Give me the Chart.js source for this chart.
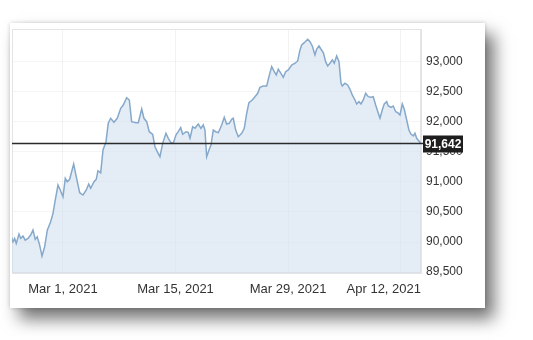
<!DOCTYPE html>
<html>
<head>
<meta charset="utf-8">
<script src="https://cdn.jsdelivr.net/npm/chart.js@4.4.1/dist/chart.umd.min.js"></script>
<style>
  html, body { margin: 0; padding: 0; background: #fff; width: 533px; height: 340px; overflow: hidden; }
  #card {
    position: absolute; left: 10px; top: 23px; width: 475px; height: 285px;
    background: #fff;
    box-shadow: 0 0 4px rgba(0,0,0,0.18), 9px 11px 16px rgba(0,0,0,0.55);
  }
  canvas { display: block; }
</style>
</head>
<body>
<div id="card"><canvas id="c" width="475" height="285"></canvas></div>
<script>
// Day offsets from Mar 1, 2021 (fractional days) and index values
const days = [
  -6.40, -6.22, -6.01, -5.81, -5.47, -5.26, -4.98, -4.69, -4.35, -4.02,
  -3.73, -3.45, -3.20, -2.90, -2.61, -2.28, -1.95, -1.53, -1.24, -0.96,
  -0.62, -0.34, 0.00, 0.29, 0.53, 0.83, 1.33, 1.65, 2.08, 2.49,
  2.90, 3.20, 3.45, 3.86, 4.14, 4.35, 4.69, 4.98, 5.35, 5.63,
  5.93, 6.34, 6.75, 7.18, 7.50, 7.92, 8.25, 8.54, 9.08, 9.37,
  9.79, 10.07, 10.41, 10.73, 11.16, 11.44, 11.73, 12.06, 12.40, 12.81,
  13.10, 13.40, 13.72, 14.05, 14.34, 14.64, 14.89, 15.30, 15.58, 15.80,
  16.13, 16.42, 16.83, 17.16, 17.45, 17.66, 17.87, 18.16, 18.41, 18.69,
  18.99, 19.32, 19.74, 20.06, 20.36, 20.68, 20.98, 21.18, 21.48, 21.80,
  22.23, 22.55, 22.85, 23.13, 23.54, 23.88, 24.22, 24.50, 24.91, 25.34,
  25.62, 25.96, 26.28, 26.53, 26.78, 27.11, 27.40, 27.70, 28.02, 28.45,
  28.86, 29.19, 29.48, 29.69, 30.01, 30.44, 30.72, 31.01, 31.34, 31.55,
  31.84, 32.09, 32.38, 32.67, 32.92, 33.21, 33.50, 33.74, 34.04, 34.33,
  34.58, 34.74, 35.07, 35.41, 35.70, 35.98, 36.32, 36.53, 36.82, 37.06,
  37.35, 37.65, 37.97, 38.31, 38.59, 38.89, 39.22, 39.43, 39.71, 39.96,
  40.26, 40.46, 40.80, 41.08, 41.38, 41.63, 41.92, 42.20, 42.45, 42.75,
  43.03, 43.28, 43.57, 43.78, 43.99, 44.50
];
const values = [
  90077, 90004, 90060, 89977, 90132, 90060, 90099, 90032, 90060, 90115,
  90198, 90044, 90087, 89949, 89766, 89921, 90198, 90336, 90476, 90697,
  90947, 90864, 90752, 91058, 91002, 91042, 91296, 91085, 90819, 90781,
  90864, 90963, 90892, 91002, 91042, 91185, 91151, 91529, 91667, 91973,
  92056, 91989, 92056, 92222, 92277, 92399, 92360, 92000, 91983, 91983,
  92211, 92056, 92000, 91833, 91790, 91584, 91501, 91417, 91640, 91807,
  91723, 91657, 91640, 91778, 91833, 91900, 91790, 91833, 91823, 91723,
  91916, 91890, 91961, 91890, 91945, 91861, 91417, 91529, 91612, 91861,
  91833, 91817, 91945, 92073, 91961, 91973, 92039, 92056, 91861, 91750,
  91807, 91890, 92139, 92315, 92360, 92415, 92472, 92572, 92593, 92593,
  92748, 92914, 92831, 92776, 92871, 92804, 92738, 92831, 92859, 92942,
  92971, 93009, 93192, 93275, 93313, 93370, 93330, 93258, 93109, 93204,
  93258, 93204, 93147, 92997, 92926, 92971, 93026, 92971, 93092, 92997,
  92638, 92593, 92638, 92610, 92538, 92444, 92360, 92294, 92332, 92294,
  92360, 92472, 92415, 92405, 92415, 92277, 92139, 92056, 92194, 92294,
  92332, 92261, 92239, 92261, 92166, 92149, 92111, 92294, 92206, 92028,
  91861, 91795, 91762, 91807, 91723, 91642
];
const xTickDays = [0, 14, 28, 42];
const xTickLabels = ['Mar 1, 2021', 'Mar 15, 2021', 'Mar 29, 2021', 'Apr 12, 2021'];
const yTicks = [89500, 90000, 90500, 91000, 91500, 92000, 92500, 93000];
const lastValue = 91642;

const FONT = '"Liberation Sans", Arial, sans-serif';

const refLine = {
  id: 'refLine',
  beforeDraw(chart) {
    // keep the last date label inside the plot's right edge
    const sx = chart.scales.x;
    const items = sx.getLabelItems();
    if (items && items.length) {
      const it = items[items.length - 1];
      it.options.translation[0] = chart.chartArea.right;
      it.options.textAlign = 'right';
    }
  },
  beforeDatasetsDraw(chart) {
    const { ctx, chartArea: a } = chart;
    ctx.save();
    ctx.strokeStyle = '#e4e4e4';
    ctx.lineWidth = 1;
    ctx.strokeRect(a.left + 0.5, a.top + 0.5, a.right - a.left - 1, a.bottom - a.top - 1);
    ctx.restore();
  },
  afterDatasetsDraw(chart) {
    const { ctx, chartArea: a, scales: { y } } = chart;
    const py = Math.round(y.getPixelForValue(lastValue)) + 0.5;
    ctx.save();
    ctx.strokeStyle = '#2b2b2b';
    ctx.lineWidth = 1.5;
    ctx.beginPath();
    ctx.moveTo(a.left, py);
    ctx.lineTo(a.right + 2, py);
    ctx.stroke();
    const bx = a.right + 2, bw = 40, bh = 17;
    ctx.fillStyle = '#1e1e1e';
    ctx.fillRect(bx, py - 8, bw, bh);
    ctx.fillStyle = '#ffffff';
    ctx.font = 'bold 12px ' + FONT;
    ctx.textAlign = 'center';
    ctx.textBaseline = 'middle';
    ctx.fillText(lastValue.toLocaleString('en-US'), bx + bw / 2, py + 1);
    ctx.restore();
  }
};

new Chart(document.getElementById('c'), {
  type: 'line',
  data: {
    datasets: [{
      data: days.map((d, i) => ({ x: d, y: values[i] })),
      borderColor: '#86a9cb',
      borderWidth: 1.5,
      backgroundColor: 'rgba(205,222,238,0.55)',
      fill: 'start',
      pointRadius: 0,
      tension: 0
    }]
  },
  options: {
    responsive: false,
    animation: false,
    layout: { padding: { left: 2, top: 6, right: 0, bottom: 0 } },
    plugins: { legend: { display: false }, tooltip: { enabled: false } },
    scales: {
      x: {
        type: 'linear',
        min: -6.34,
        max: 44.53,
        afterBuildTicks: s => { s.ticks = xTickDays.map(v => ({ value: v })); },
        afterFit: s => { s.height = 35; s.paddingLeft = 0; s.paddingRight = 0; },
        grid: { color: 'rgba(0,0,0,0.05)', drawTicks: false },
        border: { display: true, color: '#e4e4e4' },
        ticks: {
          autoSkip: false, maxRotation: 0, padding: 9,
          color: '#333', font: { family: FONT, size: 13 },
          callback: v => xTickLabels[xTickDays.indexOf(v)]
        }
      },
      y: {
        position: 'right',
        min: 89485,
        max: 93540,
        afterBuildTicks: s => { s.ticks = yTicks.map(v => ({ value: v })); },
        afterFit: s => { s.width = 64; s.paddingTop = 0; s.paddingBottom = 0; },
        grid: { color: 'rgba(0,0,0,0.04)', drawTicks: false },
        border: { display: true, color: '#e4e4e4' },
        ticks: {
          padding: 5, color: '#333', font: { family: FONT, size: 12 },
          callback: v => v.toLocaleString('en-US')
        }
      }
    }
  },
  plugins: [refLine]
});
</script>
</body>
</html>
